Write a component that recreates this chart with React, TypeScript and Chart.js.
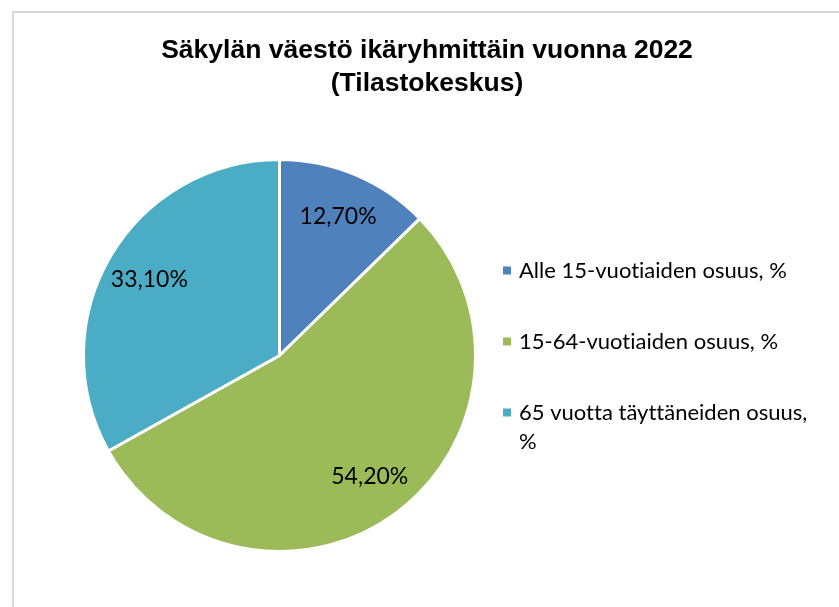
import React, { useEffect, useRef } from "react";
import { Chart, registerables } from "chart.js";

Chart.register(...registerables);

const titleLines = ["Säkylän väestö ikäryhmittäin vuonna 2022", "(Tilastokeskus)"];
const categories = [
  "Alle 15-vuotiaiden osuus, %",
  "15-64-vuotiaiden osuus, %",
  "65 vuotta täyttäneiden osuus, %",
];
const shares = [12.7, 54.2, 33.1];
const sliceColors = ["#4F81BD", "#9BBB59", "#4BACC6"];

const fmt = (v: number) => v.toFixed(2).replace(".", ",") + "%";

const DATA_LABEL_FONT = '23px Lato, "Noto Sans", sans-serif';
const LEGEND_FONT = '22px Lato, "Noto Sans", sans-serif';
const TITLE_FONT = 'bold 26.5px "Liberation Sans", Arial, sans-serif';

function noLigatures(ctx: any) {
  try {
    ctx.textRendering = "optimizeSpeed";
  } catch (e) {}
  try {
    ctx.letterSpacing = "0.01px";
  } catch (e) {}
}

function wrapText(ctx: CanvasRenderingContext2D, text: string, maxWidth: number): string[] {
  const words = text.split(" ");
  const lines: string[] = [];
  let cur = "";
  for (const w of words) {
    const test = cur ? cur + " " + w : w;
    if (ctx.measureText(test).width > maxWidth && cur) {
      lines.push(cur);
      cur = w;
    } else {
      cur = test;
    }
  }
  if (cur) lines.push(cur);
  return lines;
}

const overlayPlugin = {
  id: "overlay",
  beforeDraw(chart: any) {
    const ctx = chart.ctx as CanvasRenderingContext2D;
    ctx.save();
    ctx.fillStyle = "#ffffff";
    ctx.fillRect(0, 0, chart.width, chart.height);
    ctx.strokeStyle = "#d9d9d9";
    ctx.lineWidth = 2;
    ctx.strokeRect(13, 12, chart.width + 20, chart.height + 20);
    ctx.restore();
  },
  afterDatasetsDraw(chart: any) {
    const ctx = chart.ctx as CanvasRenderingContext2D;
    const meta = chart.getDatasetMeta(0);
    ctx.save();
    noLigatures(ctx);
    ctx.font = DATA_LABEL_FONT;
    ctx.fillStyle = "#000000";
    ctx.textAlign = "center";
    ctx.textBaseline = "middle";
    meta.data.forEach((arc: any, i: number) => {
      const { x, y, startAngle, endAngle, outerRadius } = arc.getProps(
        ["x", "y", "startAngle", "endAngle", "outerRadius"],
        true
      );
      const mid = (startAngle + endAngle) / 2;
      const r = outerRadius * 0.77;
      ctx.fillText(fmt(shares[i]), x + Math.cos(mid) * r, y + Math.sin(mid) * r);
    });
    ctx.restore();
  },
  afterDraw(chart: any) {
    const ctx = chart.ctx as CanvasRenderingContext2D;
    ctx.save();
    // Title
    ctx.font = TITLE_FONT;
    ctx.fillStyle = "#000000";
    ctx.textAlign = "center";
    ctx.textBaseline = "alphabetic";
    titleLines.forEach((t, i) => ctx.fillText(t, 427, 58 + i * 33));

    // Legend
    noLigatures(ctx);
    ctx.font = LEGEND_FONT;
    ctx.textAlign = "left";
    ctx.textBaseline = "middle";
    const lineH = 29;
    const gap = 42;
    let top = 256;
    categories.forEach((c, i) => {
      const lines = wrapText(ctx, c, 298);
      const cy = top + lineH / 2;
      ctx.fillStyle = sliceColors[i];
      ctx.fillRect(503, cy - 4, 8, 8);
      ctx.fillStyle = "#000000";
      lines.forEach((l, j) => ctx.fillText(l, 519, cy + j * lineH));
      top += lines.length * lineH + gap;
    });
    ctx.restore();
  },
};

export default function App() {
  const ref = useRef<HTMLCanvasElement | null>(null);
  useEffect(() => {
    if (!ref.current) return;
    const chart = new Chart(ref.current, {
      type: "pie",
      data: {
        labels: categories,
        datasets: [
          {
            data: shares,
            backgroundColor: sliceColors,
            borderColor: "#ffffff",
            borderWidth: 3,
          },
        ],
      },
      options: {
        responsive: false,
        animation: false,
        layout: { padding: { left: 82, right: 362, top: 158, bottom: 54 } },
        plugins: {
          legend: { display: false },
          title: { display: false },
          tooltip: { enabled: false },
        },
      },
      plugins: [overlayPlugin],
    });
    return () => chart.destroy();
  }, []);
  return (
    <div style={{ position: "fixed", left: 0, top: 0, width: 839, height: 607, background: "#fff" }}>
      <canvas ref={ref} width={839} height={607} />
    </div>
  );
}
